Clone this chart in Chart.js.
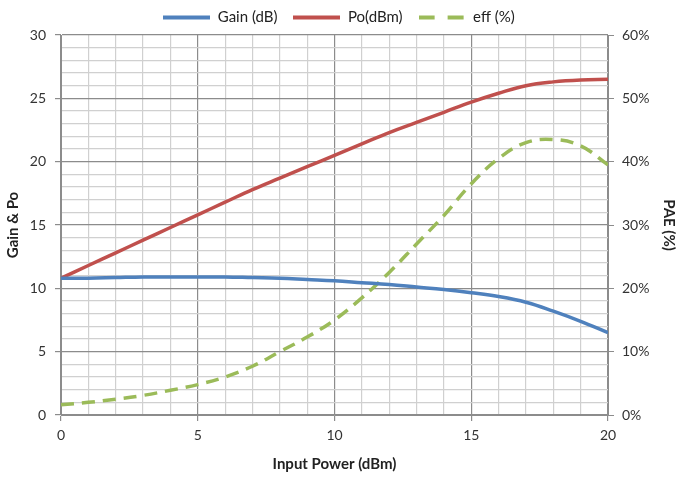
<!DOCTYPE html>
<html><head><meta charset="utf-8">
<script src="https://cdn.jsdelivr.net/npm/chart.js@4"></script>
<style>html,body{margin:0;padding:0;background:#fff}#w{width:678px;height:477px}</style>
</head><body><div id="w"><canvas id="c"></canvas></div>
<script>
const inputPower = [0,1,2,3,4,5,6,7,8,9,10,11,12,13,14,15,16,17,18,19,20];
const gainDb = [10.8,10.8,10.85,10.9,10.9,10.9,10.9,10.85,10.8,10.7,10.6,10.45,10.3,10.1,9.9,9.65,9.35,8.9,8.2,7.4,6.5];
const poDbm = [10.8,11.8,12.8,13.8,14.8,15.8,16.8,17.8,18.7,19.6,20.5,21.4,22.3,23.1,23.9,24.7,25.4,26.0,26.3,26.45,26.5];
const effPct = [1.6,2.0,2.5,3.1,3.9,4.8,6.0,7.7,10.0,12.3,15.0,18.5,22.5,27.0,31.5,36.5,40.5,43.0,43.5,42.5,39.5];
const xTicks = [0,5,10,15,20];
const leftTicks = [0,5,10,15,20,25,30];
const rightTicks = [0,10,20,30,40,50,60];

const F = "Lato, 'Liberation Sans', sans-serif";
const pts = a => inputPower.map((x,i)=>({x, y:a[i]}));
const major = v => v % 5 === 0;

function legendSwatch(color, dash){
  const c = document.createElement('canvas');
  c.width = 47; c.height = 5;
  const g = c.getContext('2d');
  g.strokeStyle = color; g.lineWidth = 4;
  g.setLineDash(dash || []);
  g.beginPath(); g.moveTo(0, 2.5); g.lineTo(47, 2.5); g.stroke();
  return c;
}

new Chart(document.getElementById('c'), {
  type: 'line',
  data: { datasets: [
    {label:'Gain (dB)', data: pts(gainDb), borderColor:'#4F81BD', backgroundColor:'#4F81BD', borderWidth:3.5, pointRadius:0, pointStyle: legendSwatch('#4F81BD'), tension:0.4, yAxisID:'y'},
    {label:'Po(dBm)', data: pts(poDbm), borderColor:'#C0504D', backgroundColor:'#C0504D', borderWidth:3.5, pointRadius:0, pointStyle: legendSwatch('#C0504D'), tension:0.4, yAxisID:'y'},
    {label:'eff (%)', data: pts(effPct), borderColor:'#9BBB59', backgroundColor:'#9BBB59', borderWidth:3.5, borderDash:[13,8], pointRadius:0, pointStyle: legendSwatch('#9BBB59',[16,13]), tension:0.4, yAxisID:'y1'}
  ]},
  options: {
    responsive:true, maintainAspectRatio:false, animation:false,
    layout:{padding:{top:-6,left:0,right:0,bottom:0}},
    plugins:{
      legend:{position:'top', labels:{usePointStyle:true, pointStyleWidth:47, boxHeight:5, padding:16, color:'#222', font:{family:F,size:15}}},
      tooltip:{enabled:false}
    },
    scales:{
      x:{type:'linear', min:0, max:20,
        afterBuildTicks: s => { s.ticks = inputPower.map(v=>({value:v})); },
        afterFit: s => { s.height = 62; },
        ticks:{color:'#333', font:{family:F,size:14}, padding:6, autoSkip:false, maxRotation:0, callback:v => major(v)? String(v):''},
        grid:{color: c => major(c.tick.value)?'#8c8c8c':'#d0d0d0', tickColor: c => major(c.tick.value)?'#8c8c8c':'rgba(0,0,0,0)', tickLength:6, lineWidth:1.2},
        border:{color:'#8c8c8c'},
        title:{display:true, text:'Input Power (dBm)', color:'#222', font:{family:F,size:15,weight:'bold'}, padding:{top:2}}
      },
      y:{type:'linear', position:'left', min:0, max:30,
        afterBuildTicks: s => { const t=[]; for(let v=0; v<=30; v++) t.push({value:v}); s.ticks=t; },
        afterFit: s => { s.width = 61; },
        ticks:{color:'#333', font:{family:F,size:14}, padding:9, autoSkip:false, callback:v => major(v)? String(v):''},
        grid:{color: c => major(c.tick.value)?'#8c8c8c':'#d0d0d0', tickColor: c => major(c.tick.value)?'#8c8c8c':'rgba(0,0,0,0)', tickLength:6, lineWidth:1.2},
        border:{color:'#8c8c8c'},
        title:{display:true, text:'Gain & Po', color:'#222', font:{family:F,size:15,weight:'bold'}, padding:{top:4,bottom:2}}
      },
      y1:{type:'linear', position:'right', min:0, max:60,
        afterBuildTicks: s => { s.ticks = rightTicks.map(v=>({value:v})); },
        afterFit: s => { s.width = 70; },
        ticks:{color:'#333', font:{family:F,size:14}, padding:8, callback:v => v+'%'},
        grid:{drawOnChartArea:false, color:'#8c8c8c', tickLength:6},
        border:{color:'#8c8c8c'},
        title:{display:true, text:'PAE (%)', color:'#222', font:{family:F,size:15,weight:'bold'}, padding:{top:0,bottom:4}}
      }
    }
  }
});
</script></body></html>
